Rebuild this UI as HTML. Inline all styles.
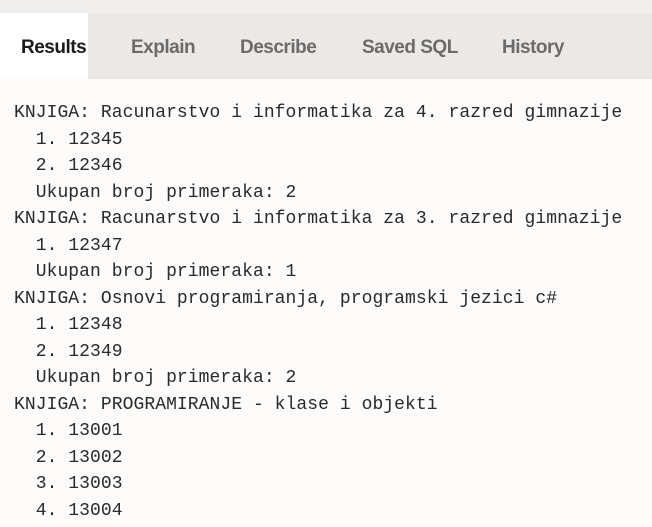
<!DOCTYPE html>
<html><head><meta charset="utf-8"><style>
body{margin:0;width:652px;height:527px;overflow:hidden;background:#fcfbfa;position:relative;font-family:"Liberation Sans",sans-serif}
.top{position:absolute;left:0;top:0;width:652px;height:13px;background:#f0eeec}
.bar{position:absolute;left:0;top:13px;width:652px;height:66px;background:#ebe8e5}
.act{position:absolute;left:0;top:13px;width:88px;height:66px;background:#fff}
.t{position:absolute;top:37px;font-size:19px;font-weight:bold;color:#6b6b6b;white-space:nowrap;letter-spacing:-0.5px}
pre{position:absolute;left:14px;top:100px;margin:0;font-family:"Liberation Mono",monospace;font-size:18px;line-height:26.5px;letter-spacing:0.06px;color:#2a2a2a}
</style></head><body>
<div class="top"></div><div class="bar"></div><div class="act"></div>
<div class="t" style="left:21px;color:#1a1a1a">Results</div>
<div class="t" style="left:131px">Explain</div>
<div class="t" style="left:240px">Describe</div>
<div class="t" style="left:362px">Saved SQL</div>
<div class="t" style="left:502px">History</div>
<pre>KNJIGA: Racunarstvo i informatika za 4. razred gimnazije
  1. 12345
  2. 12346
  Ukupan broj primeraka: 2
KNJIGA: Racunarstvo i informatika za 3. razred gimnazije
  1. 12347
  Ukupan broj primeraka: 1
KNJIGA: Osnovi programiranja, programski jezici c#
  1. 12348
  2. 12349
  Ukupan broj primeraka: 2
KNJIGA: PROGRAMIRANJE - klase i objekti
  1. 13001
  2. 13002
  3. 13003
  4. 13004</pre>
</body></html>
